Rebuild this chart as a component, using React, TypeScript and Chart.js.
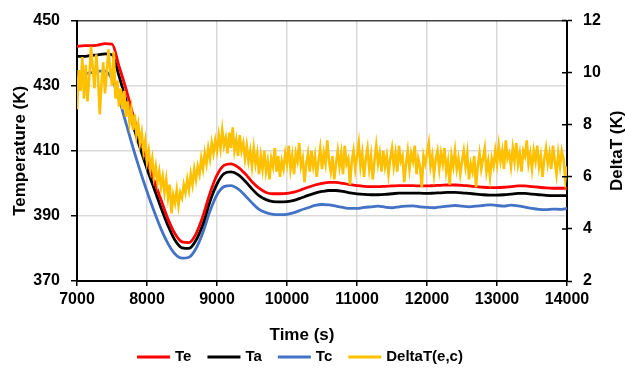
import React, { useEffect, useRef } from 'react';
import { Chart, registerables } from 'chart.js';

Chart.register(...registerables);

const FONT = '"Liberation Sans", Arial, Helvetica, sans-serif';

// ---- data ----
const T_START = 7000;
const SMOOTH_STEP = 100; // s between samples of Te, Ta, Tc
const DELTA_STEP = 25; // s between samples of DeltaT

const xTicks = [7000, 8000, 9000, 10000, 11000, 12000, 13000, 14000];
const tempTicks = [370, 390, 410, 430, 450];
const deltaTicks = [2, 4, 6, 8, 10, 12];

const xTitle = 'Time (s)';
const tempTitle = 'Temperature (K)';
const deltaTitle = 'DeltaT (K)';

const seriesLabels = ['Te', 'Ta', 'Tc', 'DeltaT(e,c)'];

const te = [
  442.0, 442.3, 442.3, 442.5, 442.9, 442.8, 436.0, 429.0, 421.0, 414.0,
  407.5, 401.0, 395.0, 389.0, 384.5, 382.0, 381.8, 384.5, 390.0, 397.0,
  402.5, 405.5, 406.0, 405.0, 403.0, 400.5, 398.5, 397.2, 396.8, 396.8,
  396.9, 397.3, 398.0, 398.8, 399.5, 400.0, 400.3, 400.3, 400.0, 399.6,
  399.3, 399.1, 399.0, 399.0, 399.1, 399.2, 399.3, 399.3, 399.3, 399.2,
  399.2, 399.3, 399.4, 399.5, 399.5, 399.4, 399.2, 399.0, 398.8, 398.7,
  398.7, 398.8, 399.0, 399.2, 399.2, 399.0, 398.8, 398.6, 398.5, 398.5, 398.5,
];

const ta = [
  439.0, 439.0, 439.3, 439.5, 439.8, 439.5, 433.0, 425.5, 418.0, 411.0,
  404.5, 398.5, 392.5, 387.0, 382.5, 380.2, 380.0, 382.5, 387.5, 394.5,
  399.8, 403.0, 403.5, 402.7, 400.7, 398.3, 396.2, 395.0, 394.4, 394.3,
  394.4, 394.8, 395.5, 396.3, 397.0, 397.5, 397.8, 397.8, 397.5, 397.1,
  396.8, 396.6, 396.5, 396.5, 396.6, 396.8, 397.0, 397.0, 397.0, 397.0,
  396.9, 397.0, 397.1, 397.2, 397.2, 397.1, 396.9, 396.7, 396.5, 396.4,
  396.4, 396.5, 396.7, 396.9, 396.9, 396.7, 396.5, 396.3, 396.2, 396.2, 396.2,
];

const tc = [
  432.0, 433.5, 434.0, 434.5, 434.5, 432.0, 426.0, 418.5, 411.0, 404.0,
  397.5, 391.5, 386.0, 381.5, 378.3, 377.0, 377.3, 380.0, 385.0, 391.5,
  396.5, 399.0, 399.3, 398.3, 396.3, 394.0, 392.0, 391.0, 390.5, 390.4,
  390.5, 391.0, 391.8, 392.5, 393.2, 393.5, 393.4, 393.0, 392.6, 392.3,
  392.3, 392.6, 392.8, 393.0, 392.7, 392.5, 392.8, 393.0, 393.1, 392.8,
  392.6, 392.5, 392.8, 393.0, 393.2, 393.0, 392.8, 393.0, 393.2, 393.4,
  393.2, 393.0, 393.3, 393.1, 392.7, 392.3, 392.0, 391.9, 392.1, 392.0, 392.3,
];

const deltaT = [
  8.6, 10.1, 9.3, 10.6, 9.0, 10.3, 8.9, 9.8, 11.0, 10.2, 9.4, 10.7, 9.9, 8.4, 9.6, 10.4, 9.2, 10.0, 10.9, 10.1,
  9.5, 10.8, 9.0, 9.7, 8.7, 9.4, 8.6, 9.3, 8.3, 8.9, 8.1, 8.6, 7.8, 8.4, 7.6, 8.0, 7.3, 7.7, 7.0, 7.4,
  6.6, 7.0, 6.3, 6.7, 6.0, 6.4, 5.8, 6.2, 5.6, 6.0, 5.4, 5.9, 5.2, 5.7, 4.6, 5.3, 5.0, 5.5, 4.9, 5.4,
  5.2, 5.7, 5.4, 5.9, 5.5, 6.1, 5.7, 6.3, 5.9, 6.4, 6.1, 6.7, 6.3, 6.9, 6.5, 7.1, 6.7, 7.3, 6.9, 7.4,
  7.0, 7.6, 7.1, 7.8, 7.2, 7.5, 6.9, 7.7, 7.1, 7.9, 7.0, 7.4, 6.8, 7.6, 7.0, 7.3, 6.7, 7.2, 6.6, 7.0,
  6.4, 7.1, 6.5, 6.9, 6.1, 6.8, 6.3, 7.0, 6.2, 6.6, 5.9, 6.7, 6.4, 7.1, 6.2, 6.8, 6.0, 6.6, 6.3, 6.9,
  6.5, 7.2, 6.3, 6.8, 6.1, 6.9, 6.6, 7.3, 6.4, 6.7, 5.8, 6.5, 6.9, 6.2, 7.0, 6.4, 6.8, 6.0, 6.6, 7.1,
  6.3, 6.9, 6.5, 7.4, 6.6, 6.2, 6.8, 5.9, 6.5, 7.0, 6.4, 6.9, 6.1, 7.2, 6.5, 6.7, 5.7, 6.6, 7.0, 6.3,
  6.8, 7.3, 6.4, 6.9, 6.0, 6.7, 7.1, 6.3, 6.8, 5.9, 6.6, 7.2, 6.5, 6.9, 6.2, 7.0, 6.4, 6.8, 6.1, 6.7,
  7.1, 6.4, 6.9, 6.2, 7.2, 6.6, 6.8, 5.8, 6.5, 7.0, 6.3, 6.9, 6.6, 7.2, 6.1, 6.7, 6.4, 5.6, 6.8, 6.5,
  6.9, 7.3, 6.4, 6.8, 6.1, 6.7, 7.0, 6.3, 6.9, 6.5, 7.1, 6.2, 6.6, 5.7, 6.8, 6.4, 7.0, 6.3, 6.7, 6.1,
  6.6, 7.0, 6.4, 6.9, 5.9, 6.5, 6.2, 6.8, 5.6, 6.4, 6.9, 6.3, 6.7, 7.1, 6.2, 6.6, 6.0, 6.7, 6.4, 7.0,
  6.5, 7.2, 6.6, 7.0, 6.3, 7.4, 6.7, 6.9, 6.4, 7.1, 6.6, 7.3, 6.5, 6.9, 6.2, 7.0, 6.8, 7.4, 6.5, 6.9,
  6.3, 7.0, 6.6, 7.2, 6.4, 6.8, 6.0, 6.7, 7.1, 6.5, 6.9, 6.3, 7.2, 6.6, 6.1, 6.9, 6.4, 7.0, 6.7, 5.9,
  6.4,
];

const toPoints = (vals: number[], step: number) =>
  vals.map((y, i) => ({ x: T_START + i * step, y }));

const overlayPlugin = {
  id: 'overlay',
  afterDraw(chart: any) {
    const { ctx, chartArea, scales } = chart;
    const y1 = scales.y1;
    ctx.save();
    // inner part of right-axis ticks
    ctx.strokeStyle = '#000';
    ctx.lineWidth = 1.5;
    ctx.beginPath();
    for (const v of deltaTicks) {
      const y = y1.getPixelForValue(v);
      ctx.moveTo(chartArea.right - 5, y);
      ctx.lineTo(chartArea.right, y);
    }
    ctx.stroke();

    ctx.fillStyle = '#000';
    ctx.textAlign = 'center';
    ctx.textBaseline = 'middle';
    ctx.font = `bold 17px ${FONT}`;
    ctx.fillText(xTitle, 302, 335);

    ctx.save();
    ctx.translate(617, (chartArea.top + chartArea.bottom) / 2);
    ctx.rotate(-Math.PI / 2);
    ctx.fillText(deltaTitle, 0, 0);
    ctx.restore();

    // legend
    ctx.font = `bold 15px ${FONT}`;
    ctx.textAlign = 'left';
    const lineLen = 33;
    const gapLine = 5;
    const gapItem = 16;
    const items = chart.data.datasets.map((d: any) => ({
      label: d.label,
      color: d.borderColor,
      w: ctx.measureText(d.label).width,
    }));
    const total =
      items.reduce((s: number, it: any) => s + lineLen + gapLine + it.w, 0) +
      gapItem * (items.length - 1);
    let x = 300 - total / 2;
    const y = 357;
    for (const it of items) {
      ctx.strokeStyle = it.color;
      ctx.lineWidth = 3;
      ctx.beginPath();
      ctx.moveTo(x, y);
      ctx.lineTo(x + lineLen, y);
      ctx.stroke();
      x += lineLen + gapLine;
      ctx.fillText(it.label, x, y);
      x += it.w + gapItem;
    }
    ctx.restore();
  },
};

export default function App() {
  const canvasRef = useRef<HTMLCanvasElement | null>(null);

  useEffect(() => {
    document.body.style.margin = '0';
    const canvas = canvasRef.current;
    if (!canvas) return;

    const tickFont = { family: FONT, size: 16, weight: 'bold' as const };

    const chart = new Chart(canvas, {
      type: 'line',
      data: {
        datasets: [
          {
            label: seriesLabels[0],
            data: toPoints(te, SMOOTH_STEP),
            borderColor: '#ff0000',
            backgroundColor: '#ff0000',
            borderWidth: 2.8,
            pointRadius: 0,
            cubicInterpolationMode: 'monotone',
            yAxisID: 'y',
            order: 1,
          },
          {
            label: seriesLabels[1],
            data: toPoints(ta, SMOOTH_STEP),
            borderColor: '#000000',
            backgroundColor: '#000000',
            borderWidth: 2.8,
            pointRadius: 0,
            cubicInterpolationMode: 'monotone',
            yAxisID: 'y',
            order: 2,
          },
          {
            label: seriesLabels[2],
            data: toPoints(tc, SMOOTH_STEP),
            borderColor: '#4472c4',
            backgroundColor: '#4472c4',
            borderWidth: 2.8,
            pointRadius: 0,
            cubicInterpolationMode: 'monotone',
            yAxisID: 'y',
            order: 3,
          },
          {
            label: seriesLabels[3],
            data: toPoints(deltaT, DELTA_STEP),
            borderColor: '#ffc000',
            backgroundColor: '#ffc000',
            borderWidth: 2.6,
            pointRadius: 0,
            tension: 0,
            yAxisID: 'y1',
            order: 0,
          },
        ],
      },
      options: {
        responsive: false,
        animation: false,
        devicePixelRatio: 1,
        layout: { padding: { top: 20, left: 0, right: 0, bottom: 0 } },
        plugins: {
          legend: { display: false },
          tooltip: { enabled: false },
        },
        scales: {
          x: {
            type: 'linear',
            min: xTicks[0],
            max: xTicks[xTicks.length - 1],
            afterBuildTicks: (s: any) => {
              s.ticks = xTicks.map((v) => ({ value: v }));
            },
            afterFit: (s: any) => {
              s.height = 88;
            },
            ticks: {
              font: tickFont,
              color: '#000',
              padding: 4,
              maxRotation: 0,
              autoSkip: false,
              callback: (v: any) => String(v),
            },
            grid: {
              color: '#d9d9d9',
              lineWidth: 1.5,
              tickColor: '#000',
              tickLength: 5,
              tickWidth: 1.5,
            },
            border: { color: '#000', width: 2 },
          },
          y: {
            type: 'linear',
            position: 'left',
            min: tempTicks[0],
            max: tempTicks[tempTicks.length - 1],
            afterBuildTicks: (s: any) => {
              s.ticks = tempTicks.map((v) => ({ value: v }));
            },
            afterFit: (s: any) => {
              s.width = 77;
            },
            title: {
              display: true,
              text: tempTitle,
              color: '#000',
              font: { family: FONT, size: 17, weight: 'bold' },
              padding: { top: 10, bottom: 0 },
            },
            ticks: {
              font: tickFont,
              color: '#000',
              padding: 11,
            },
            grid: {
              color: (c: any) => (c.tick && c.tick.value === 450 ? '#404040' : '#d9d9d9'),
              lineWidth: 1.5,
              tickColor: '#000',
              tickLength: 6,
              tickWidth: 1.5,
            },
            border: { color: '#000', width: 2 },
          },
          y1: {
            type: 'linear',
            position: 'right',
            min: deltaTicks[0],
            max: deltaTicks[deltaTicks.length - 1],
            afterBuildTicks: (s: any) => {
              s.ticks = deltaTicks.map((v) => ({ value: v }));
            },
            afterFit: (s: any) => {
              s.width = 58;
            },
            ticks: {
              font: tickFont,
              color: '#000',
              padding: 11,
            },
            grid: {
              drawOnChartArea: false,
              tickColor: '#000',
              tickLength: 5,
              tickWidth: 1.5,
            },
            border: { color: '#000', width: 2 },
          },
        },
      },
      plugins: [overlayPlugin],
    } as any);

    return () => {
      chart.destroy();
    };
  }, []);

  return (
    <div style={{ width: 625, height: 369, background: '#fff' }}>
      <canvas ref={canvasRef} width={625} height={369} />
    </div>
  );
}
